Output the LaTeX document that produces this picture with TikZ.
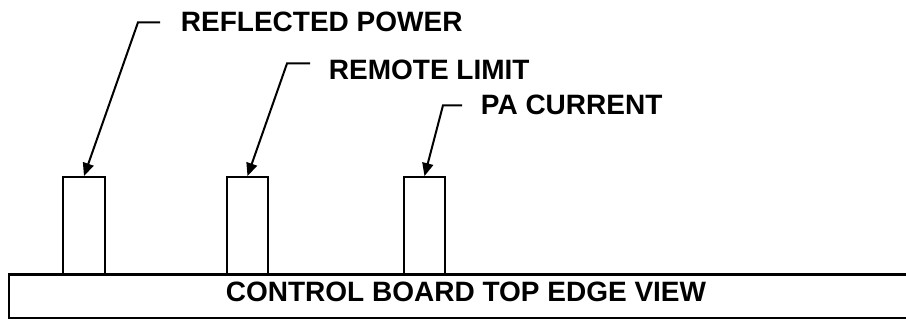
\documentclass[tikz,border=0pt]{standalone}
\usepackage{fontspec}
\setmainfont{Liberation Sans}
\usetikzlibrary{arrows.meta}
\begin{document}
\begin{tikzpicture}[x=1pt,y=1pt,line width=1.9pt,font=\fontsize{28}{30}\selectfont\bfseries,
  part/.style={draw,minimum width=42pt,minimum height=97pt,anchor=south,inner sep=0pt},
  tag/.style={anchor=base west,inner sep=0pt},
  lead/.style={-{Triangle[length=13pt,width=11pt]},line width=2pt}]
\useasboundingbox (0,0) rectangle (906,320);
\clip (0,0) rectangle (906,320);
% board seen edge on
\node[draw,line width=1.2pt,minimum width=914pt,minimum height=43pt,inner sep=0pt,text depth=10pt] (board) at (466,23.5) {CONTROL BOARD TOP EDGE VIEW};
\draw[line width=2.6pt] (board.north west) -- (board.north east);
% parts on the edge
\node[part] (pwr) at (84,45) {};
\node[part,minimum width=41pt] (rem) at (247.5,45) {};
\node[part,minimum width=41pt] (pac) at (424.5,45) {};
% labels
\node[tag] (pwrtag) at (180,288) {REFLECTED POWER};
\node[tag] (remtag) at (328,240) {REMOTE LIMIT};
\node[tag] (pactag) at (480,205) {PA CURRENT};
\draw[lead] (pwrtag.west) ++(-20,0) -- ++(-22,0) -- (pwr.north);
\draw[lead] (remtag.north west) ++(-18,-4) -- ++(-23,0) -- (rem.north);
\draw[lead] (pactag.west) ++(-18,0) -- ++(-19,0) -- (pac.north);
\end{tikzpicture}
\end{document}
